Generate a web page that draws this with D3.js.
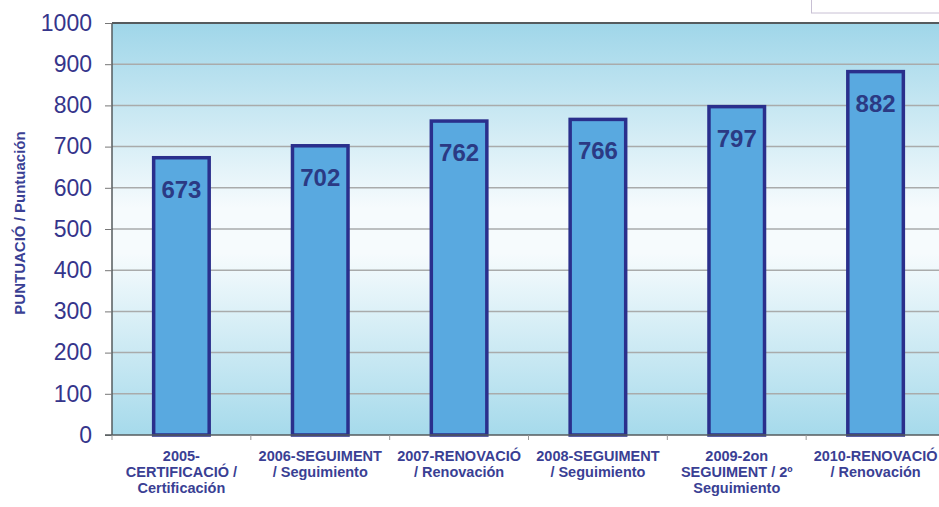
<!DOCTYPE html>
<html><head><meta charset="utf-8">
<script src="https://cdn.jsdelivr.net/npm/d3@7"></script>
<style>body{margin:0;background:#fff;overflow:hidden}svg{display:block}</style>
</head><body>
<svg id="c" width="939" height="507"></svg>
<script>
const categories = [
  ["2005-","CERTIFICACIÓ /","Certificación"],
  ["2006-SEGUIMENT","/ Seguimiento"],
  ["2007-RENOVACIÓ","/ Renovación"],
  ["2008-SEGUIMENT","/ Seguimiento"],
  ["2009-2on","SEGUIMENT / 2º","Seguimiento"],
  ["2010-RENOVACIÓ","/ Renovación"]
];
const values = [673, 702, 762, 766, 797, 882];
const yTicks = [0,100,200,300,400,500,600,700,800,900,1000];
const yTitle = "PUNTUACIÓ / Puntuación";

const svg = d3.select("#c");
const m = {left:112, top:23, right:945, bottom:435};
const x = d3.scaleBand().domain(d3.range(values.length)).range([m.left, m.right]).paddingInner(0).paddingOuter(0);
const y = d3.scaleLinear().domain([0,1000]).range([m.bottom, m.top]);
const font = "Liberation Sans, Arial, sans-serif";

const defs = svg.append("defs");
const g = defs.append("linearGradient").attr("id","bg").attr("x1",0).attr("y1",0).attr("x2",0).attr("y2",1);
[[0,"#9fd6e9"],[0.45,"#f6fbfd"],[0.56,"#f6fbfd"],[1,"#a6daeb"]].forEach(s=>g.append("stop").attr("offset",s[0]).attr("stop-color",s[1]));

// legend box remnant (top right)
svg.append("rect").attr("x",811.5).attr("y",-5).attr("width",140).attr("height",18).attr("fill","#fff").attr("stroke","#c8c0d4").attr("stroke-width",1);

svg.append("rect").attr("x",m.left).attr("y",m.top).attr("width",m.right-m.left).attr("height",m.bottom-m.top).attr("fill","url(#bg)");

// gridlines
svg.append("g").selectAll("line").data(yTicks.filter(d=>d>0&&d<1000)).join("line")
  .attr("x1",m.left).attr("x2",m.right).attr("y1",d=>y(d)).attr("y2",d=>y(d))
  .attr("stroke","#a9abab").attr("stroke-width",1.5);

// top border
svg.append("line").attr("x1",m.left).attr("x2",m.right).attr("y1",m.top).attr("y2",m.top).attr("stroke","#555b5e").attr("stroke-width",2);

// bars
const bw = x.bandwidth()*0.4;
svg.append("g").selectAll("rect").data(values).join("rect")
  .attr("x",(d,i)=>x(i)+x.bandwidth()/2-bw/2).attr("y",d=>y(d))
  .attr("width",bw).attr("height",d=>y(0)-y(d))
  .attr("fill","#59a9e0").attr("stroke","#2a2f8c").attr("stroke-width",3.5);

// value labels
svg.append("g").selectAll("text").data(values).join("text")
  .attr("x",(d,i)=>x(i)+x.bandwidth()/2).attr("y",d=>y(d)+40)
  .attr("text-anchor","middle").attr("font-family",font)
  .attr("font-weight","bold").attr("font-size",24).attr("fill","#2b3a84").text(d=>d);

// y axis
const ya = d3.axisLeft(y).tickValues(yTicks).tickFormat(d3.format("d")).tickSize(7).tickPadding(13);
const yg = svg.append("g").attr("transform",`translate(${m.left},0)`).call(ya);
yg.select(".domain").attr("stroke","#555b5e").attr("stroke-width",1.5).attr("d",`M0,${m.top}V${m.bottom}`);
yg.selectAll(".tick line").attr("stroke","#777");
yg.selectAll(".tick text").attr("font-family",font).attr("font-size",23).attr("fill","#35358b");

// x axis
const xa = d3.axisBottom(x).tickSize(0).tickFormat("");
const xg = svg.append("g").attr("transform",`translate(0,${m.bottom})`).call(xa);
xg.select(".domain").attr("stroke","#555b5e").attr("stroke-width",1.5).attr("d",`M${m.left-7},0H${m.right}`);
svg.append("g").selectAll("line").data(d3.range(values.length+1)).join("line")
  .attr("x1",i=>m.left+i*x.step()).attr("x2",i=>m.left+i*x.step()).attr("y1",m.bottom).attr("y2",m.bottom+5)
  .attr("stroke","#999");

const xl = svg.append("g").selectAll("text").data(categories).join("text")
  .attr("text-anchor","middle").attr("font-family",font)
  .attr("font-weight","bold").attr("font-size",14.5).attr("fill","#3a3f94");
xl.each(function(lines,i){
  const t = d3.select(this);
  lines.forEach((l,k)=>t.append("tspan").attr("x",x(i)+x.bandwidth()/2).attr("y",m.bottom+26+k*16).text(l));
});

// y title
svg.append("text").attr("transform",`translate(25,223) rotate(-90)`)
  .attr("text-anchor","middle").attr("font-family",font)
  .attr("font-weight","bold").attr("font-size",15).attr("fill","#3a3f94").text(yTitle);
</script>
</body></html>
